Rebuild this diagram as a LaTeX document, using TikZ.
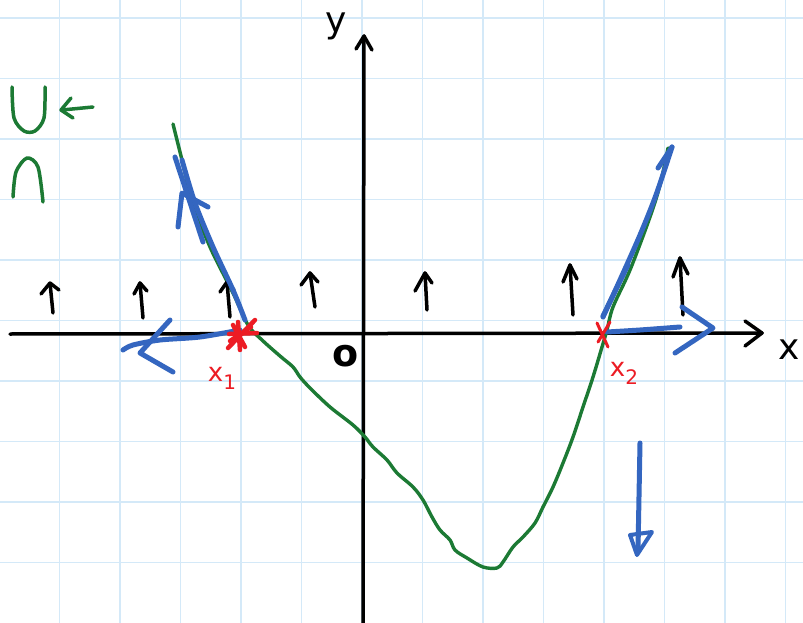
\documentclass[tikz,border=0pt]{standalone}
\usepackage{fontspec}
\setmainfont{DejaVu Sans}
\definecolor{gridblue}{RGB}{212,233,248}
\definecolor{pgreen}{RGB}{28,122,52}
\definecolor{pblue}{RGB}{52,102,192}
\definecolor{pred}{RGB}{236,28,36}
\begin{document}
\begin{tikzpicture}[x=1pt,y=-1pt,
  line cap=round, line join=round,
  gridline/.style={gridblue,line width=1.6pt},
  axis/.style={black,line width=3.5pt},
  curve/.style={pgreen,line width=3.4pt},
  bluestroke/.style={pblue,line width=5pt},
  redstroke/.style={pred,line width=4.5pt},
  uparrow/.style={black,line width=3.5pt},
  greenmark/.style={pgreen,line width=3.5pt},
  lab/.style={inner sep=0pt},
  biglab/.style={lab,font=\fontsize{36}{36}\selectfont},
  redlab/.style={lab,pred,font=\fontsize{26}{26}\selectfont}
]
\useasboundingbox (0,0) rectangle (803,623);
\fill[white] (0,0) rectangle (803,623);
% grid
\foreach \i in {0,...,12} \draw[gridline] ({59.5+60.5*\i},0) -- ({59.5+60.5*\i},623);
\foreach \j in {0,...,9} \draw[gridline] (0,{18+60.5*\j}) -- (803,{18+60.5*\j});
% axes
\coordinate (xl) at (10,334);
\coordinate (xr) at (762,333);
\coordinate (yb) at (363,623);
\coordinate (yt) at (364,36);
\draw[axis] (xl) -- (xr);
\draw[axis] (745,321) -- (xr) -- (745,346);
\draw[axis] (yb) -- (yt);
\draw[axis] (356,49) -- (yt) -- (372,50);
\node[biglab] (ylab) at (336,26) {y};
\node[biglab] (xlab) at (789,350) {x};
\node[lab,font=\fontsize{38}{38}\selectfont\bfseries] (olab) at (346,356) {o};
% green curve
\draw[curve] plot[smooth,tension=0.55] coordinates {
(173,124) (182,160) (192,200) (210,247) (233,293) (248,325) (262,340) (280,356)
(293,367) (300,377) (310,388) (330,407) (353,425) (365,437) (373,447) (387,460)
(397,473) (413,487) (423,500) (432,517) (440,530) (450,540) (455,550) (467,558)
(483,567) (497,568) (503,562) (513,547) (523,537) (535,523) (543,507) (553,487)
(563,463) (573,437) (583,407) (593,377) (602,347) (607,330) (613,307) (630,270)
(650,217) (660,185) (668,148)};
% black up arrows
\foreach \bx/\by/\tx/\ty/\lx/\ly/\rx/\ry in {
  53/313/50/283/41/294/59/290,
  143/318/140/283/134/294/147/291,
  230/317/227/282/220/292/234/290,
  315/307/310/273/301/285/318/282,
  427/310/425/273/415/291/432/283,
  573/315/570/265/563/282/577/279,
  683/315/680/258/673/277/688/274}{
  \draw[uparrow] (\bx,\by) -- (\tx,\ty);
  \draw[uparrow] (\lx,\ly) -- (\tx,\ty) -- (\rx,\ry);
}
% blue strokes left
\draw[bluestroke] plot[smooth] coordinates {(245,320) (233,290) (213,247) (195,203) (182,160)};
\draw[bluestroke] (203,242) -- (175,157);
\draw[bluestroke] (208,207) -- (182,193) -- (178,227);
\draw[bluestroke] plot[smooth] coordinates {(240,330) (200,337) (160,340) (133,345) (123,350)};
\draw[bluestroke] (170,320) -- (140,353) -- (173,372);
% blue strokes right
\draw[bluestroke] plot[smooth] coordinates {(603,317) (620,280) (640,235) (656,195) (672,147)};
\draw[bluestroke] (628,265) -- (603,316);
\draw[bluestroke] (658,168) -- (672,147);
\draw[bluestroke] plot[smooth] coordinates {(607,332) (640,330) (680,327)};
\draw[bluestroke] (682,307) -- (713,328) -- (675,353);
\draw[bluestroke] (640,443) -- (638,550);
\draw[pblue,line width=4pt] (630,535) -- (652,532) -- (637,555) -- cycle;
% red marks
\draw[redstroke] (233,325) -- (245,347);
\draw[redstroke] (255,320) -- (228,348);
\draw[redstroke] (229,334) -- (257,333);
\draw[redstroke] (238,322) -- (240,350);
\draw[redstroke] (230,341) -- (251,327);
\draw[pred,line width=3pt] (597,323) -- (608,347);
\draw[pred,line width=3pt] (610,322) -- (598,342);
\node[redlab] (x1lab) at (222,378) {x\raisebox{-0.3em}{\fontsize{20}{20}\selectfont 1}};
\node[redlab] (x2lab) at (624,373) {x\raisebox{-0.3em}{\fontsize{20}{20}\selectfont 2}};
% concavity symbols
\draw[greenmark] plot[smooth] coordinates {(12,87) (14,118) (24,131) (35,131) (44,118) (45,87)};
\draw[greenmark] (93,107) -- (62,110);
\draw[greenmark] (71,98) -- (61,110) -- (73,118);
\draw[greenmark] plot[smooth] coordinates {(13,197) (16,172) (27,158) (38,167) (43,202)};
\end{tikzpicture}
\end{document}
